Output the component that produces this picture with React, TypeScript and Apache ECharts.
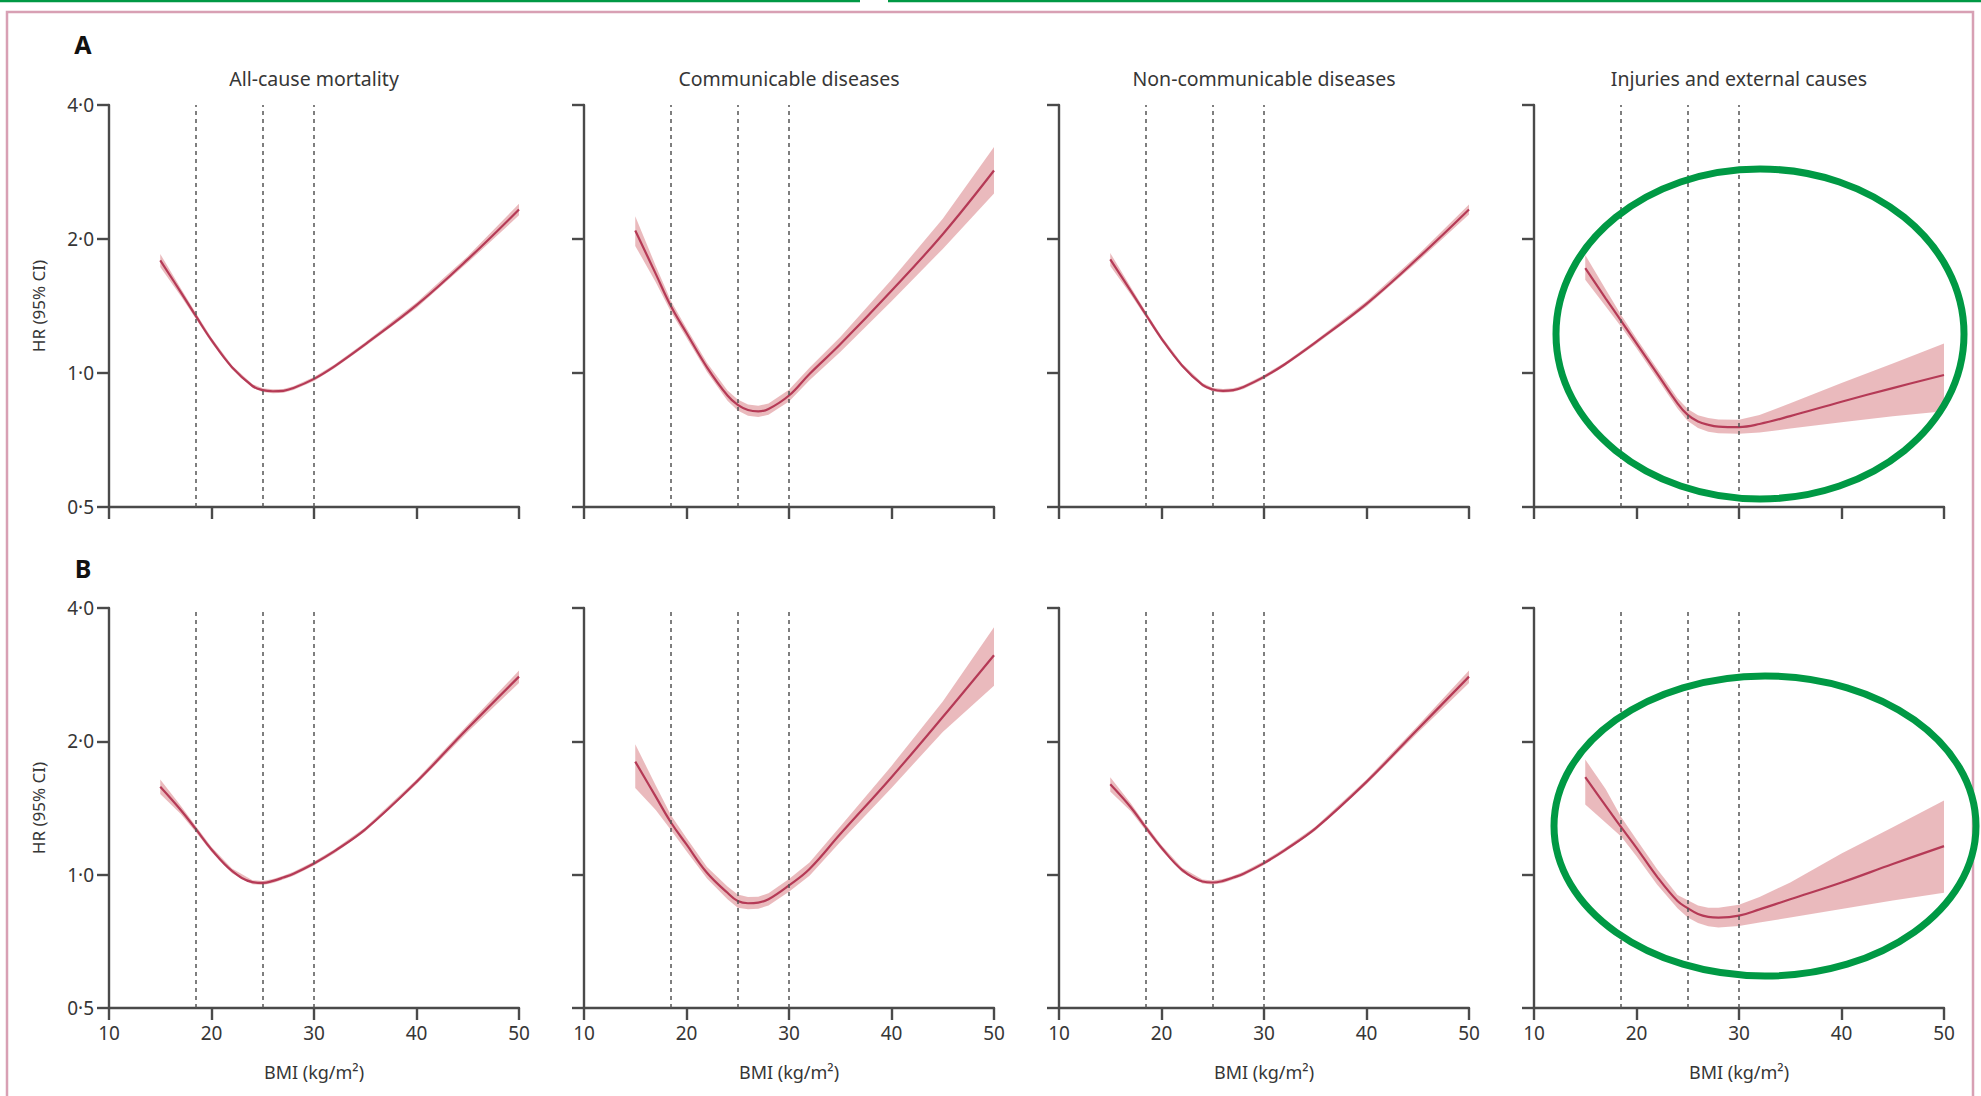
import React, { useEffect, useRef } from 'react';
import * as echarts from 'echarts';

// ---------------- data ----------------
const BMI = [15, 17, 18.5, 20, 22, 24, 25, 26, 27, 28, 30, 32, 35, 40, 45, 50];
const X_TICKS = [10, 20, 30, 40, 50];
const Y_TICKS = [0.5, 1, 2, 4];
const CUTOFFS = [18.5, 25, 30];
const TITLES = ['All-cause mortality', 'Communicable diseases', 'Non-communicable diseases', 'Injuries and external causes'];
const ROW_LABELS = ['A', 'B'];
const Y_NAME = 'HR (95% CI)';
const X_NAME = 'BMI (kg/m\u00b2)';

// Row A
const A_ALL_HR = [1.79, 1.52, 1.34, 1.185, 1.03, 0.935, 0.915, 0.91, 0.912, 0.925, 0.97, 1.035, 1.16, 1.42, 1.80, 2.33];
const A_ALL_LO = [1.73, 1.49, 1.32, 1.17, 1.02, 0.926, 0.906, 0.901, 0.903, 0.916, 0.96, 1.025, 1.148, 1.40, 1.77, 2.26];
const A_ALL_HI = [1.85, 1.55, 1.36, 1.20, 1.04, 0.944, 0.924, 0.919, 0.921, 0.934, 0.98, 1.045, 1.172, 1.44, 1.83, 2.40];

const A_COM_HR = [2.09, 1.67, 1.41, 1.23, 1.03, 0.89, 0.848, 0.826, 0.82, 0.83, 0.89, 0.995, 1.16, 1.53, 2.05, 2.85];
const A_COM_LO = [1.93, 1.60, 1.37, 1.20, 1.005, 0.866, 0.824, 0.802, 0.796, 0.806, 0.863, 0.963, 1.115, 1.45, 1.90, 2.53];
const A_COM_HI = [2.25, 1.74, 1.45, 1.26, 1.055, 0.914, 0.872, 0.85, 0.844, 0.854, 0.917, 1.027, 1.205, 1.62, 2.22, 3.22];

const A_NCD_HR = [1.80, 1.53, 1.35, 1.195, 1.04, 0.94, 0.918, 0.912, 0.915, 0.93, 0.98, 1.045, 1.17, 1.43, 1.81, 2.33];
const A_NCD_LO = [1.74, 1.50, 1.33, 1.18, 1.03, 0.931, 0.909, 0.903, 0.906, 0.921, 0.97, 1.035, 1.158, 1.41, 1.78, 2.27];
const A_NCD_HI = [1.86, 1.56, 1.37, 1.21, 1.05, 0.949, 0.927, 0.921, 0.924, 0.939, 0.99, 1.055, 1.182, 1.45, 1.84, 2.39];

const A_INJ_HR = [1.72, 1.47, 1.31, 1.166, 0.998, 0.855, 0.805, 0.778, 0.765, 0.758, 0.756, 0.768, 0.80, 0.862, 0.925, 0.99];
const A_INJ_LO = [1.62, 1.41, 1.27, 1.136, 0.973, 0.832, 0.78, 0.752, 0.738, 0.732, 0.73, 0.735, 0.75, 0.775, 0.80, 0.82];
const A_INJ_HI = [1.84, 1.54, 1.35, 1.196, 1.023, 0.878, 0.83, 0.804, 0.792, 0.786, 0.785, 0.805, 0.855, 0.95, 1.05, 1.165];

// Row B
const B_ALL_HR = [1.58, 1.40, 1.265, 1.14, 1.02, 0.962, 0.958, 0.968, 0.985, 1.005, 1.06, 1.13, 1.265, 1.62, 2.14, 2.80];
const B_ALL_LO = [1.52, 1.37, 1.245, 1.125, 1.008, 0.952, 0.948, 0.958, 0.975, 0.995, 1.049, 1.118, 1.252, 1.60, 2.10, 2.71];
const B_ALL_HI = [1.64, 1.43, 1.285, 1.155, 1.032, 0.972, 0.968, 0.978, 0.995, 1.015, 1.071, 1.142, 1.278, 1.64, 2.18, 2.89];

const B_COM_HR = [1.80, 1.50, 1.31, 1.17, 1.01, 0.91, 0.872, 0.862, 0.865, 0.88, 0.946, 1.03, 1.235, 1.66, 2.27, 3.13];
const B_COM_LO = [1.57, 1.40, 1.26, 1.13, 0.98, 0.88, 0.842, 0.835, 0.838, 0.852, 0.915, 0.995, 1.185, 1.57, 2.10, 2.67];
const B_COM_HI = [1.97, 1.59, 1.36, 1.21, 1.04, 0.94, 0.902, 0.89, 0.892, 0.908, 0.978, 1.065, 1.285, 1.76, 2.46, 3.62];

const B_NCD_HR = [1.60, 1.42, 1.275, 1.15, 1.025, 0.965, 0.96, 0.968, 0.985, 1.005, 1.062, 1.135, 1.27, 1.62, 2.13, 2.80];
const B_NCD_LO = [1.54, 1.39, 1.255, 1.135, 1.013, 0.955, 0.95, 0.958, 0.975, 0.995, 1.051, 1.123, 1.257, 1.60, 2.09, 2.71];
const B_NCD_HI = [1.66, 1.45, 1.295, 1.165, 1.037, 0.975, 0.97, 0.978, 0.995, 1.015, 1.073, 1.147, 1.283, 1.64, 2.17, 2.89];

const B_INJ_HR = [1.66, 1.43, 1.28, 1.15, 0.99, 0.872, 0.84, 0.815, 0.803, 0.80, 0.808, 0.835, 0.88, 0.96, 1.057, 1.16];
const B_INJ_LO = [1.44, 1.31, 1.22, 1.10, 0.95, 0.84, 0.80, 0.778, 0.765, 0.76, 0.766, 0.78, 0.80, 0.837, 0.874, 0.91];
const B_INJ_HI = [1.82, 1.56, 1.35, 1.20, 1.03, 0.90, 0.875, 0.852, 0.842, 0.842, 0.855, 0.89, 0.96, 1.117, 1.28, 1.47];

const PANELS = [
  { hr: A_ALL_HR, lo: A_ALL_LO, hi: A_ALL_HI },
  { hr: A_COM_HR, lo: A_COM_LO, hi: A_COM_HI },
  { hr: A_NCD_HR, lo: A_NCD_LO, hi: A_NCD_HI },
  { hr: A_INJ_HR, lo: A_INJ_LO, hi: A_INJ_HI },
  { hr: B_ALL_HR, lo: B_ALL_LO, hi: B_ALL_HI },
  { hr: B_COM_HR, lo: B_COM_LO, hi: B_COM_HI },
  { hr: B_NCD_HR, lo: B_NCD_LO, hi: B_NCD_HI },
  { hr: B_INJ_HR, lo: B_INJ_LO, hi: B_INJ_HI },
];

// ---------------- layout / style ----------------
const W = 1981;
const H = 1096;
const COL_LEFT = [109, 584, 1059, 1534];
const PANEL_W = 410;
const ROW_TOP = [105, 608];
const ROW_H = [402, 400];
const FONT = '"Noto Sans", "Open Sans", sans-serif';
const AXIS_COLOR = '#4a4a4a';
const TEXT_COLOR = '#363636';
const LINE_COLOR = '#b53a56';
const BAND_COLOR = '#e8b3b6';
const GREEN = '#009944';
const PINK = '#d8a0b4';

const fmt = (v: number) => v.toFixed(1).replace('.', '\u00b7');

export default function App() {
  const ref = useRef<HTMLDivElement>(null);

  useEffect(() => {
    if (!ref.current) return;
    const chart = echarts.init(ref.current, undefined, { renderer: 'svg' });

    const grids: any[] = [];
    const xAxes: any[] = [];
    const yAxes: any[] = [];
    const series: any[] = [];

    PANELS.forEach((p, i) => {
      const row = Math.floor(i / 4);
      const col = i % 4;
      grids.push({ left: COL_LEFT[col], top: ROW_TOP[row], width: PANEL_W, height: ROW_H[row], containLabel: false });
      xAxes.push({
        gridIndex: i,
        type: 'value',
        min: X_TICKS[0],
        max: X_TICKS[X_TICKS.length - 1],
        interval: 10,
        axisLine: { show: true, onZero: false, lineStyle: { color: AXIS_COLOR, width: 2.4 } },
        axisTick: { show: true, length: 12, lineStyle: { color: AXIS_COLOR, width: 2.4 } },
        axisLabel: {
          show: row === 1,
          margin: 15,
          fontSize: 19,
          color: TEXT_COLOR,
          fontFamily: FONT,
          formatter: (v: number) => String(v),
        },
        splitLine: { show: false },
      });
      yAxes.push({
        gridIndex: i,
        type: 'log',
        logBase: 2,
        min: Y_TICKS[0],
        max: Y_TICKS[Y_TICKS.length - 1],
        splitNumber: 3,
        axisLine: { show: true, lineStyle: { color: AXIS_COLOR, width: 2.4 } },
        axisTick: { show: true, length: 12, lineStyle: { color: AXIS_COLOR, width: 2.4 } },
        axisLabel: {
          show: col === 0,
          margin: 15,
          fontSize: 19,
          color: TEXT_COLOR,
          fontFamily: FONT,
          formatter: (v: number) => fmt(v),
        },
        splitLine: { show: false },
      });
      series.push({
        type: 'custom',
        xAxisIndex: i,
        yAxisIndex: i,
        z: 2,
        silent: true,
        data: [[BMI[0], p.hr[0]]],
        renderItem: (params: any, api: any) => {
          if (params.dataIndex !== 0) return null;
          const top = BMI.map((b, j) => api.coord([b, p.hi[j]]));
          const bot = BMI.map((b, j) => api.coord([b, p.lo[j]])).reverse();
          return {
            type: 'polygon',
            shape: { points: top.concat(bot) },
            style: { fill: BAND_COLOR, opacity: 0.9 },
          };
        },
      });
      series.push({
        type: 'line',
        xAxisIndex: i,
        yAxisIndex: i,
        z: 3,
        silent: true,
        smooth: 0.4,
        showSymbol: false,
        symbol: 'none',
        lineStyle: { color: LINE_COLOR, width: 2.2 },
        data: BMI.map((b, j) => [b, p.hr[j]]),
        markLine: {
          silent: true,
          symbol: ['none', 'none'],
          label: { show: false },
          lineStyle: { type: [4, 4], color: '#555555', width: 1.5 },
          data: CUTOFFS.map((c) => ({ xAxis: c })),
        },
      });
    });

    const graphic: any[] = [];
    graphic.push({ type: 'line', shape: { x1: 0, y1: 1, x2: 860, y2: 1 }, style: { stroke: GREEN, lineWidth: 2.5 } });
    graphic.push({ type: 'line', shape: { x1: 888, y1: 1, x2: W, y2: 1 }, style: { stroke: GREEN, lineWidth: 2.5 } });
    graphic.push({ type: 'rect', shape: { x: 7, y: 12, width: 1966, height: 1120 }, style: { fill: 'none', stroke: PINK, lineWidth: 2.5 } });
    ROW_LABELS.forEach((lab, r) => {
      graphic.push({
        type: 'text', x: 83, y: r === 0 ? 44 : 568,
        style: { text: lab, fontSize: 25, fontWeight: 'bold', fill: '#111', fontFamily: FONT, align: 'center', verticalAlign: 'middle' },
      });
      graphic.push({
        type: 'text', x: 38, y: ROW_TOP[r] + ROW_H[r] / 2, rotation: Math.PI / 2,
        style: { text: Y_NAME, fontSize: 17, fill: TEXT_COLOR, fontFamily: FONT, align: 'center', verticalAlign: 'middle' },
      });
    });
    TITLES.forEach((t, c) => {
      graphic.push({
        type: 'text', x: COL_LEFT[c] + PANEL_W / 2, y: 78,
        style: { text: t, fontSize: 19.5, fill: TEXT_COLOR, fontFamily: FONT, align: 'center', verticalAlign: 'middle' },
      });
      graphic.push({
        type: 'text', x: COL_LEFT[c] + PANEL_W / 2, y: 1072,
        style: { text: X_NAME, fontSize: 18, fill: TEXT_COLOR, fontFamily: FONT, align: 'center', verticalAlign: 'middle' },
      });
    });
    graphic.push({ type: 'ellipse', z: 100, shape: { cx: 1760, cy: 334, rx: 204, ry: 165 }, style: { fill: 'none', stroke: GREEN, lineWidth: 7 } });
    graphic.push({ type: 'ellipse', z: 100, shape: { cx: 1765, cy: 826, rx: 211, ry: 150 }, style: { fill: 'none', stroke: GREEN, lineWidth: 7 } });

    chart.setOption({
      animation: false,
      backgroundColor: '#ffffff',
      grid: grids,
      xAxis: xAxes,
      yAxis: yAxes,
      series,
      graphic,
    });

    return () => chart.dispose();
  }, []);

  return (
    <div
      ref={ref}
      style={{ position: 'fixed', left: 0, top: 0, width: W, height: H, background: '#fff' }}
    />
  );
}
